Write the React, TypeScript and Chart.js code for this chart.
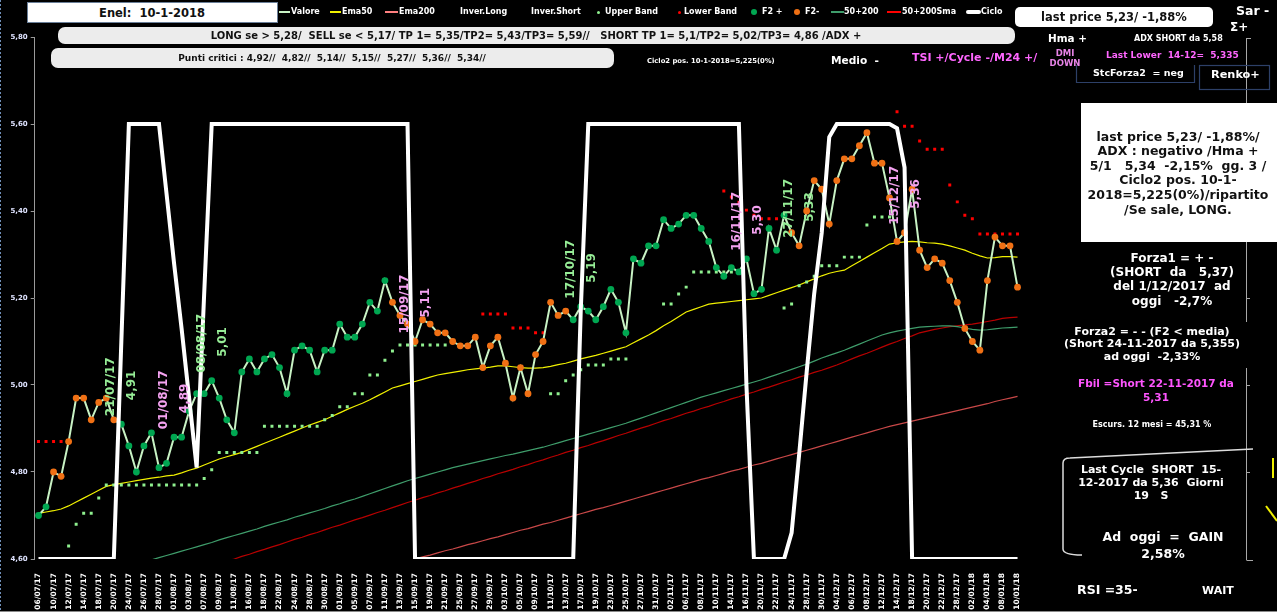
import React, { useEffect, useRef } from 'react';
import { Chart, registerables } from 'chart.js';

Chart.register(...registerables);

const FONT = '"DejaVu Sans", Verdana, sans-serif';
const _ = null;

const dates = [
  '06/07/17','07/07/17','10/07/17','11/07/17','12/07/17','13/07/17','14/07/17','17/07/17','18/07/17','19/07/17',
  '20/07/17','21/07/17','24/07/17','25/07/17','26/07/17','27/07/17','28/07/17','31/07/17','01/08/17','02/08/17',
  '03/08/17','04/08/17','07/08/17','08/08/17','09/08/17','10/08/17','11/08/17','14/08/17','16/08/17','17/08/17',
  '18/08/17','21/08/17','22/08/17','23/08/17','24/08/17','25/08/17','28/08/17','29/08/17','30/08/17','31/08/17',
  '01/09/17','04/09/17','05/09/17','06/09/17','07/09/17','08/09/17','11/09/17','12/09/17','13/09/17','14/09/17',
  '15/09/17','18/09/17','19/09/17','20/09/17','21/09/17','22/09/17','25/09/17','26/09/17','27/09/17','28/09/17',
  '29/09/17','02/10/17','03/10/17','04/10/17','05/10/17','06/10/17','09/10/17','10/10/17','11/10/17','12/10/17',
  '13/10/17','16/10/17','17/10/17','18/10/17','19/10/17','20/10/17','23/10/17','24/10/17','25/10/17','26/10/17',
  '27/10/17','30/10/17','31/10/17','01/11/17','02/11/17','03/11/17','06/11/17','07/11/17','08/11/17','09/11/17',
  '10/11/17','13/11/17','14/11/17','15/11/17','16/11/17','17/11/17','20/11/17','21/11/17','22/11/17','23/11/17',
  '24/11/17','27/11/17','28/11/17','29/11/17','30/11/17','01/12/17','04/12/17','05/12/17','06/12/17','07/12/17',
  '08/12/17','11/12/17','12/12/17','13/12/17','14/12/17','15/12/17','18/12/17','19/12/17','20/12/17','21/12/17',
  '22/12/17','27/12/17','28/12/17','29/12/17','02/01/18','03/01/18','04/01/18','05/01/18','08/01/18','09/01/18',
  '10/01/18',
];

const valore = [
  4.70, 4.72, 4.80, 4.79, 4.87, 4.97, 4.97, 4.92, 4.96, 4.97,
  4.92, 4.91, 4.86, 4.80, 4.86, 4.89, 4.81, 4.82, 4.88, 4.88,
  4.94, 4.98, 4.98, 5.01, 4.97, 4.92, 4.89, 5.03, 5.06, 5.03,
  5.06, 5.07, 5.04, 4.98, 5.08, 5.09, 5.08, 5.03, 5.08, 5.08,
  5.14, 5.11, 5.11, 5.14, 5.19, 5.17, 5.24, 5.19, 5.16, 5.14,
  5.10, 5.15, 5.14, 5.12, 5.12, 5.10, 5.09, 5.09, 5.11, 5.04,
  5.09, 5.11, 5.05, 4.97, 5.04, 4.98, 5.07, 5.10, 5.19, 5.16,
  5.17, 5.15, 5.18, 5.17, 5.15, 5.18, 5.22, 5.19, 5.12, 5.29,
  5.28, 5.32, 5.32, 5.38, 5.36, 5.37, 5.39, 5.39, 5.36, 5.33,
  5.27, 5.25, 5.27, 5.26, 5.29, 5.21, 5.22, 5.36, 5.31, 5.39,
  5.35, 5.32, 5.40, 5.47, 5.45, 5.37, 5.47, 5.52, 5.52, 5.55,
  5.58, 5.51, 5.51, 5.43, 5.33, 5.35, 5.45, 5.31, 5.27, 5.29,
  5.28, 5.24, 5.19, 5.13, 5.10, 5.08, 5.24, 5.34, 5.32, 5.32,
  5.225,
];

// F2 state of each session: '+' green marker, '-' orange marker
const f2Signs = (
  '++--------' + '-+++++++++' + '++++++++++' + '++++++++++' + '+++++++---' +
  '----------' + '----------' + '-+++++++++' + '++++++++++' + '++++++++++' +
  '----------' + '----------' + '----------' + '-'
).split('');

const ema50 = [
  4.705, 4.708, 4.711, 4.715, 4.722, 4.731, 4.740, 4.749, 4.758, 4.767,
  4.771, 4.774, 4.777, 4.780, 4.783, 4.786, 4.788, 4.791, 4.793, 4.798,
  4.804, 4.809, 4.816, 4.823, 4.830, 4.835, 4.840, 4.845, 4.852, 4.859,
  4.866, 4.873, 4.880, 4.887, 4.894, 4.901, 4.908, 4.914, 4.920, 4.928,
  4.936, 4.944, 4.951, 4.958, 4.966, 4.975, 4.984, 4.993, 4.998, 5.003,
  5.008, 5.013, 5.018, 5.023, 5.026, 5.029, 5.032, 5.035, 5.037, 5.039,
  5.041, 5.044, 5.044, 5.042, 5.040, 5.039, 5.039, 5.040, 5.043, 5.047,
  5.050, 5.055, 5.060, 5.064, 5.068, 5.073, 5.078, 5.083, 5.088, 5.097,
  5.106, 5.115, 5.125, 5.136, 5.146, 5.157, 5.168, 5.174, 5.180, 5.186,
  5.188, 5.190, 5.192, 5.194, 5.196, 5.198, 5.200, 5.206, 5.212, 5.218,
  5.224, 5.230, 5.237, 5.244, 5.251, 5.257, 5.261, 5.264, 5.274, 5.284,
  5.294, 5.304, 5.314, 5.324, 5.327, 5.329, 5.330, 5.329, 5.327, 5.326,
  5.324, 5.320, 5.315, 5.310, 5.303, 5.297, 5.292, 5.293, 5.295, 5.295,
  5.294,
];

const media50200 = [
  _, _, _, _, _, _, _, _, _, _,
  _, _, _, 4.590, 4.594, 4.598, 4.603, 4.608, 4.613, 4.618,
  4.623, 4.628, 4.633, 4.638, 4.644, 4.649, 4.654, 4.659, 4.664, 4.669,
  4.675, 4.680, 4.685, 4.690, 4.696, 4.701, 4.706, 4.711, 4.716, 4.722,
  4.727, 4.733, 4.738, 4.744, 4.750, 4.756, 4.762, 4.768, 4.774, 4.780,
  4.785, 4.790, 4.795, 4.800, 4.805, 4.810, 4.814, 4.818, 4.822, 4.826,
  4.830, 4.834, 4.838, 4.841, 4.845, 4.849, 4.853, 4.857, 4.862, 4.867,
  4.872, 4.877, 4.882, 4.887, 4.892, 4.897, 4.902, 4.907, 4.912, 4.918,
  4.924, 4.930, 4.936, 4.942, 4.948, 4.954, 4.960, 4.966, 4.972, 4.977,
  4.982, 4.987, 4.992, 4.997, 5.002, 5.007, 5.012, 5.018, 5.024, 5.030,
  5.036, 5.042, 5.048, 5.055, 5.062, 5.068, 5.074, 5.080, 5.087, 5.094,
  5.101, 5.108, 5.115, 5.120, 5.124, 5.127, 5.130, 5.133, 5.134, 5.135,
  5.136, 5.136, 5.134, 5.131, 5.128, 5.126, 5.127, 5.129, 5.131, 5.132,
  5.133,
];

const media50200Sma = [
  _, _, _, _, _, _, _, _, _, _,
  _, _, _, _, _, _, _, _, _, _,
  _, _, _, _, 4.590, 4.595, 4.600, 4.606, 4.611, 4.617,
  4.622, 4.628, 4.633, 4.639, 4.645, 4.650, 4.656, 4.661, 4.667, 4.673,
  4.678, 4.684, 4.690, 4.695, 4.701, 4.707, 4.712, 4.718, 4.724, 4.730,
  4.735, 4.741, 4.746, 4.752, 4.757, 4.763, 4.768, 4.774, 4.779, 4.785,
  4.790, 4.796, 4.801, 4.806, 4.812, 4.817, 4.823, 4.828, 4.834, 4.839,
  4.845, 4.850, 4.856, 4.861, 4.867, 4.872, 4.878, 4.884, 4.889, 4.895,
  4.901, 4.906, 4.912, 4.918, 4.923, 4.929, 4.935, 4.940, 4.946, 4.951,
  4.957, 4.962, 4.968, 4.973, 4.979, 4.984, 4.990, 4.995, 5.001, 5.007,
  5.012, 5.018, 5.023, 5.029, 5.034, 5.040, 5.046, 5.053, 5.060, 5.067,
  5.073, 5.080, 5.087, 5.094, 5.100, 5.107, 5.113, 5.120, 5.124, 5.128,
  5.131, 5.134, 5.136, 5.138, 5.140, 5.143, 5.146, 5.149, 5.153, 5.155,
  5.156,
];

const ema200 = [
  _, _, _, _, _, _, _, _, _, _,
  _, _, _, _, _, _, _, _, _, _,
  _, _, _, _, _, _, _, _, _, _,
  _, _, _, _, _, _, _, _, _, _,
  _, _, _, _, _, _, _, _, 4.592, 4.596,
  4.600, 4.605, 4.609, 4.614, 4.619, 4.623, 4.628, 4.633, 4.637, 4.642,
  4.647, 4.651, 4.656, 4.661, 4.666, 4.670, 4.675, 4.680, 4.684, 4.689,
  4.694, 4.699, 4.704, 4.709, 4.714, 4.718, 4.723, 4.728, 4.733, 4.738,
  4.743, 4.748, 4.753, 4.758, 4.763, 4.768, 4.773, 4.778, 4.783, 4.787,
  4.792, 4.797, 4.802, 4.806, 4.811, 4.816, 4.820, 4.825, 4.830, 4.835,
  4.840, 4.845, 4.850, 4.855, 4.860, 4.865, 4.870, 4.875, 4.880, 4.885,
  4.890, 4.895, 4.900, 4.905, 4.909, 4.913, 4.917, 4.921, 4.925, 4.929,
  4.933, 4.937, 4.941, 4.945, 4.949, 4.953, 4.957, 4.962, 4.966, 4.970,
  4.974,
];

const upperBand = [
  _, _, _, _, 4.63, 4.68, 4.705, 4.705, 4.74, 4.77,
  4.77, 4.77, 4.77, 4.77, 4.77, 4.77, 4.77, 4.77, 4.77, 4.77,
  4.77, 4.77, 4.785, 4.805, 4.845, 4.845, 4.845, 4.845, 4.845, 4.845,
  4.905, 4.905, 4.905, 4.905, 4.905, 4.905, 4.905, 4.905, 4.92, 4.93,
  4.95, 4.95, 4.98, 4.98, 5.023, 5.023, 5.057, 5.078, 5.092, 5.092,
  5.092, 5.092, 5.092, 5.092, 5.092, _, _, _, _, _,
  _, _, _, _, _, _, _, _, 4.98, 4.98,
  5.01, 5.023, 5.035, 5.046, 5.046, 5.046, 5.06, 5.06, 5.06, _,
  _, _, _, 5.186, 5.186, 5.209, 5.225, 5.26, 5.26, 5.26,
  5.26, 5.26, 5.26, 5.26, _, _, _, _, _, 5.177,
  5.186, 5.228, 5.237, 5.25, 5.274, 5.274, 5.274, 5.294, 5.294, 5.294,
  5.368, 5.386, 5.386, 5.386, _, _, _, _, _, _,
  _, _, _, _, _, _, _, _, _, _,
  _,
];

const lowerBand = [
  4.87, 4.87, 4.87, 4.87, _, _, _, _, _, _,
  _, _, _, _, _, _, _, _, _, _,
  _, _, _, _, _, _, _, _, _, _,
  _, _, _, _, _, _, _, _, _, _,
  _, _, _, _, _, _, _, _, _, _,
  _, _, _, _, _, _, _, _, _, 5.163,
  5.163, 5.163, 5.163, 5.131, 5.131, 5.131, 5.12, 5.12, _, _,
  _, _, _, _, _, _, _, _, _, _,
  _, _, _, _, _, _, _, _, _, _,
  _, 5.446, 5.432, 5.42, 5.402, 5.39, 5.382, 5.382, 5.382, _,
  _, _, _, _, _, _, _, _, _, _,
  _, _, _, _, 5.628, 5.595, 5.595, 5.561, 5.542, 5.542,
  5.542, 5.46, 5.421, 5.39, 5.382, 5.347, 5.347, 5.347, 5.347, 5.347,
  5.347,
];

const ciclo = [
  4.6, 4.6, 4.6, 4.6, 4.6, 4.6, 4.6, 4.6, 4.6, 4.6,
  4.6, 5.1, 5.6, 5.6, 5.6, 5.6, 5.6, 5.44, 5.28, 5.13,
  4.97, 4.81, 5.21, 5.6, 5.6, 5.6, 5.6, 5.6, 5.6, 5.6,
  5.6, 5.6, 5.6, 5.6, 5.6, 5.6, 5.6, 5.6, 5.6, 5.6,
  5.6, 5.6, 5.6, 5.6, 5.6, 5.6, 5.6, 5.6, 5.6, 5.6,
  4.6, 4.6, 4.6, 4.6, 4.6, 4.6, 4.6, 4.6, 4.6, 4.6,
  4.6, 4.6, 4.6, 4.6, 4.6, 4.6, 4.6, 4.6, 4.6, 4.6,
  4.6, 4.6, 5.17, 5.6, 5.6, 5.6, 5.6, 5.6, 5.6, 5.6,
  5.6, 5.6, 5.6, 5.6, 5.6, 5.6, 5.6, 5.6, 5.6, 5.6,
  5.6, 5.6, 5.6, 5.6, 5.0, 4.6, 4.6, 4.6, 4.6, 4.6,
  4.66, 4.84, 5.03, 5.21, 5.35, 5.57, 5.6, 5.6, 5.6, 5.6,
  5.6, 5.6, 5.6, 5.6, 5.59, 5.5, 4.6, 4.6, 4.6, 4.6,
  4.6, 4.6, 4.6, 4.6, 4.6, 4.6, 4.6, 4.6, 4.6, 4.6,
  4.6,
];

// Inversion signals (Inver.Long = 'L', Inver.Short = 'S')
const inverIndex = [11, 18, 23, 50, 72, 94, 101, 115];
const inverType = ['L', 'S', 'L', 'S', 'L', 'S', 'L', 'S'];
const inverValue = ['4,91', '4,89', '5,01', '5,11', '5,19', '5,30', '5,33', '5,36'];

const yMin = 4.6;
const yMax = 5.8;
const yStep = 0.2;

const GREEN_PT = '#00a651';
const ORANGE_PT = '#f07014';

const inverPlugin = {
  id: 'inverLabels',
  afterDatasetsDraw(chart: any) {
    const { ctx } = chart;
    const xs = chart.scales.x;
    const ys = chart.scales.y;
    ctx.save();
    ctx.font = `bold 12px ${FONT}`;
    ctx.textAlign = 'left';
    ctx.textBaseline = 'middle';
    const vtext = (t: string, x: number, y: number) => {
      ctx.save();
      ctx.translate(x, y);
      ctx.rotate(-Math.PI / 2);
      ctx.fillText(t, 0, 0);
      ctx.restore();
    };
    inverIndex.forEach((idx, k) => {
      const px = xs.getPixelForValue(idx);
      const py = ys.getPixelForValue(valore[idx]);
      ctx.fillStyle = inverType[k] === 'L' ? '#96ec96' : '#f4a2f0';
      vtext(dates[idx], px - 10, py - 8);
      vtext(inverValue[k], px + 11, py - 24);
    });
    ctx.restore();
  },
};

type TxtProps = {
  x: number; y: number; text: string; size: number; color?: string;
  center?: boolean; lh?: number; weight?: string;
};
function Txt({ x, y, text, size, color = '#fff', center = false, lh, weight = 'bold' }: TxtProps) {
  const lineH = lh ?? Math.round(size * 1.25);
  return (
    <div
      style={{
        position: 'absolute', left: x, top: y - lineH / 2,
        font: `${weight} ${size}px ${FONT}`, lineHeight: `${lineH}px`, color,
        whiteSpace: 'pre', textAlign: center ? 'center' : 'left',
        transform: center ? 'translateX(-50%)' : undefined,
      }}
    >
      {text}
    </div>
  );
}

function Box({ x, y, w, h, bg, r = 0, border }: { x: number; y: number; w: number; h: number; bg: string; r?: number; border?: string }) {
  return <div style={{ position: 'absolute', left: x, top: y, width: w, height: h, background: bg, borderRadius: r, border, boxSizing: 'border-box' }} />;
}

function LegLine({ x0, x1, color, h = 2 }: { x0: number; x1: number; color: string; h?: number }) {
  return <div style={{ position: 'absolute', left: x0, top: 12 - h / 2, width: x1 - x0, height: h, background: color, borderRadius: h > 2 ? 2 : 0 }} />;
}
function LegDot({ cx, d, color }: { cx: number; d: number; color: string }) {
  return <div style={{ position: 'absolute', left: cx - d / 2, top: 12 - d / 2, width: d, height: d, background: color, borderRadius: '50%' }} />;
}

export default function App() {
  const ref = useRef<HTMLCanvasElement>(null);

  useEffect(() => {
    const canvas = ref.current;
    if (!canvas) return;
    const chart = new Chart(canvas, {
      type: 'line',
      data: {
        labels: dates,
        datasets: [
          { label: 'Ciclo', data: ciclo, borderColor: '#ffffff', borderWidth: 4, pointRadius: 0, tension: 0 },
          {
            label: 'Valore', data: valore, borderColor: '#c8f2c4', borderWidth: 2,
            pointRadius: 3.4, pointBorderWidth: 0,
            pointBackgroundColor: f2Signs.map((s) => (s === '+' ? GREEN_PT : ORANGE_PT)),
          },
          { label: 'Upper Band', data: upperBand, showLine: false, pointStyle: 'rect', pointRadius: 2.1, pointBorderWidth: 0, pointBackgroundColor: '#8ff08f' },
          { label: 'Lower Band', data: lowerBand, showLine: false, pointStyle: 'rect', pointRadius: 2.1, pointBorderWidth: 0, pointBackgroundColor: '#ff0000' },
          { label: 'Ema50', data: ema50, borderColor: '#f0f000', borderWidth: 1.2, pointRadius: 0 },
          { label: '50+200', data: media50200, borderColor: '#3f9d6b', borderWidth: 1.2, pointRadius: 0, clip: 0 },
          { label: '50+200Sma', data: media50200Sma, borderColor: '#b80000', borderWidth: 1.2, pointRadius: 0, clip: 0 },
          { label: 'Ema200', data: ema200, borderColor: '#c84848', borderWidth: 1.2, pointRadius: 0, clip: 0 },
        ] as any,
      },
      options: {
        responsive: false,
        devicePixelRatio: 1,
        animation: false,
        events: [],
        layout: { padding: { left: 0, right: 255.7, top: 37, bottom: 0 } },
        plugins: { legend: { display: false }, tooltip: { enabled: false } },
        scales: {
          x: {
            type: 'category',
            offset: true,
            grid: { display: false },
            border: { display: false },
            ticks: {
              autoSkip: false, maxRotation: 90, minRotation: 90, padding: 6, color: '#ffffff',
              font: { family: FONT, size: 7.5, weight: 'bold' },
              callback: (_v: any, i: number) => (i % 2 === 0 ? dates[i] : ''),
            },
            afterFit: (s: any) => { s.height = 53; },
          },
          y: {
            min: yMin, max: yMax,
            ticks: {
              stepSize: yStep, padding: 3, color: '#dfe3ff',
              font: { family: FONT, size: 7, weight: 'bold' },
              callback: (v: any) => Number(v).toFixed(2).replace('.', ','),
            },
            grid: { drawOnChartArea: false, drawTicks: true, tickLength: 4, color: '#9a9a9a' },
            border: { display: true, color: '#9a9a9a' },
            afterFit: (s: any) => { s.width = 34.73; },
          },
        },
      } as any,
      plugins: [inverPlugin],
    });
    return () => chart.destroy();
  }, []);

  return (
    <div style={{ position: 'absolute', left: 0, top: 0, width: 1277, height: 612, background: '#000', overflow: 'hidden' }}>
      <canvas ref={ref} width={1277} height={612} style={{ position: 'absolute', left: 0, top: 0, width: 1277, height: 612 }} />

      <svg width={1277} height={612} style={{ position: 'absolute', left: 0, top: 0 }}>
        <line x1={0.5} y1={0} x2={0.5} y2={612} stroke="#6f8fb8" strokeDasharray="2 2" />
        <line x1={0} y1={611.5} x2={1277} y2={611.5} stroke="#8a8a8a" />
        <g stroke="#a8a8a8" strokeWidth={1}>
          <line x1={1246.5} y1={38} x2={1246.5} y2={103} />
          <line x1={1246.5} y1={38.5} x2={1251} y2={38.5} />
          <line x1={1246.5} y1={242} x2={1246.5} y2={322} />
          <line x1={1246.5} y1={298.5} x2={1250} y2={298.5} />
          <line x1={1246.5} y1={368} x2={1246.5} y2={560} />
          <line x1={1246.5} y1={385.5} x2={1250} y2={385.5} />
          <line x1={1246.5} y1={472.5} x2={1250} y2={472.5} />
          <line x1={1246.5} y1={560.5} x2={1253} y2={560.5} />
        </g>
        <path d="M1082 555 Q1063 555 1063 549 L1063 463 Q1063 458 1070 458 L1253 449" fill="none" stroke="#dcdcdc" strokeWidth={1.5} />
        <path d="M1076.5 65 V82.5 H1194.5 V65" fill="none" stroke="#2d4068" strokeWidth={1.2} />
        <rect x={1199.5} y={65.5} width={70} height={24} fill="none" stroke="#2d4068" strokeWidth={1.2} />
        <line x1={1273} y1={458} x2={1273} y2={478} stroke="#f0f000" strokeWidth={2} />
        <line x1={1266} y1={506} x2={1277} y2={521} stroke="#f0f000" strokeWidth={2} />
      </svg>

      {/* title */}
      <Box x={27} y={2} w={251} h={21} bg="#ffffff" border="1px solid #6a7f99" />
      <Txt x={152} y={12.5} text="Enel:  10-1-2018" size={11.5} color="#111" center />

      {/* legend */}
      <LegLine x0={279} x1={290} color="#c8f2c4" />
      <Txt x={291} y={12} text="Valore" size={8} />
      <LegLine x0={330} x1={341} color="#f0f000" />
      <Txt x={342} y={12} text="Ema50" size={8} />
      <LegLine x0={385} x1={398} color="#ff8080" />
      <Txt x={399} y={12} text="Ema200" size={8} />
      <Txt x={460} y={12} text="Inver.Long" size={8} />
      <Txt x={531} y={12} text="Inver.Short" size={8} />
      <LegDot cx={598} d={3} color="#8ff08f" />
      <Txt x={605} y={12} text="Upper Band" size={8} />
      <LegDot cx={679} d={3} color="#ff0000" />
      <Txt x={684} y={12} text="Lower Band" size={8} />
      <LegDot cx={754} d={6} color={GREEN_PT} />
      <Txt x={762} y={12} text="F2 +" size={8} />
      <LegDot cx={797} d={6} color={ORANGE_PT} />
      <Txt x={805} y={12} text="F2-" size={8} />
      <LegLine x0={831} x1={844} color="#3f9d6b" />
      <Txt x={844} y={12} text="50+200" size={8} />
      <LegLine x0={887} x1={901} color="#ff0000" />
      <Txt x={902} y={12} text="50+200Sma" size={8} />
      <LegLine x0={966} x1={981} color="#ffffff" h={4} />
      <Txt x={981} y={12} text="Ciclo" size={8} />

      {/* rows */}
      <Box x={58} y={27} w={957} h={17} bg="#ececec" r={7} />
      <Txt x={536} y={35.5} size={10} color="#111" center
        text="LONG se > 5,28/  SELL se < 5,17/ TP 1= 5,35/TP2= 5,43/TP3= 5,59//   SHORT TP 1= 5,1/TP2= 5,02/TP3= 4,86 /ADX +" />
      <Box x={51} y={48} w={563} h={20} bg="#ececec" r={7} />
      <Txt x={332} y={58} size={9} color="#111" center
        text="Punti critici : 4,92//  4,82//  5,14//  5,15//  5,27//  5,36//  5,34//" />

      {/* top right */}
      <Box x={1015} y={7} w={198} h={20} bg="#ffffff" r={5} />
      <Txt x={1114} y={17} text="last price 5,23/ -1,88%" size={11.5} color="#111" center />
      <Txt x={1236} y={11} text="Sar -" size={12.5} />
      <Txt x={1230} y={27} text="Σ+" size={12} />
      <Txt x={1048} y={38} text="Hma +" size={10.4} />
      <Txt x={1134} y={39} text="ADX SHORT da 5,58" size={8} />
      <Txt x={647} y={61} text="Ciclo2 pos. 10-1-2018=5,225(0%)" size={6.8} />
      <Txt x={831} y={60.5} text="Medio  -" size={10.6} />
      <Txt x={912} y={58} text="TSI +/Cycle -/M24 +/" size={11} color="#ff66ff" />
      <Txt x={1065} y={53} text="DMI" size={8.5} color="#e884e8" center />
      <Txt x={1065} y={63} text="DOWN" size={8.5} color="#e884e8" center />
      <Txt x={1106} y={55} text="Last Lower  14-12=  5,335" size={9} color="#ff66ff" />
      <Txt x={1093} y={72.5} text="StcForza2  = neg" size={9.5} />
      <Txt x={1211} y={74.5} text="Renko+" size={11.3} />

      {/* right panel */}
      <Box x={1081} y={103} w={196} h={139} bg="#ffffff" />
      <Txt x={1178} y={137} lh={14.6} size={12.5} color="#111" center
        text={'last price 5,23/ -1,88%/\nADX : negativo /Hma +\n5/1   5,34  -2,15%  gg. 3 /\nCiclo2 pos. 10-1-\n2018=5,225(0%)/ripartito\n/Se sale, LONG.'} />
      <Txt x={1172} y={258} lh={14.3} size={12} center
        text={'Forza1 = + -\n(SHORT  da   5,37)\ndel 1/12/2017  ad\noggi   -2,7%'} />
      <Txt x={1152} y={332} lh={12.7} size={11} center
        text={'Forza2 = - - (F2 < media)\n(Short 24-11-2017 da 5,355)\nad oggi  -2,33%'} />
      <Txt x={1156} y={383} lh={14} size={10.5} color="#ff55ff" center
        text={'Fbil =Short 22-11-2017 da\n5,31'} />
      <Txt x={1152} y={425} size={8} center text="Escurs. 12 mesi = 45,31 %" />
      <Txt x={1151} y={469} lh={13} size={11} center
        text={'Last Cycle  SHORT  15-\n12-2017 da 5,36  Giorni\n19   S'} />
      <Txt x={1163} y={536} lh={17} size={12.5} center text={'Ad  oggi  =  GAIN\n2,58%'} />
      <Txt x={1077} y={590} size={12.5} text="RSI =35-" />
      <Txt x={1202} y={591} size={11} text="WAIT" />
    </div>
  );
}
